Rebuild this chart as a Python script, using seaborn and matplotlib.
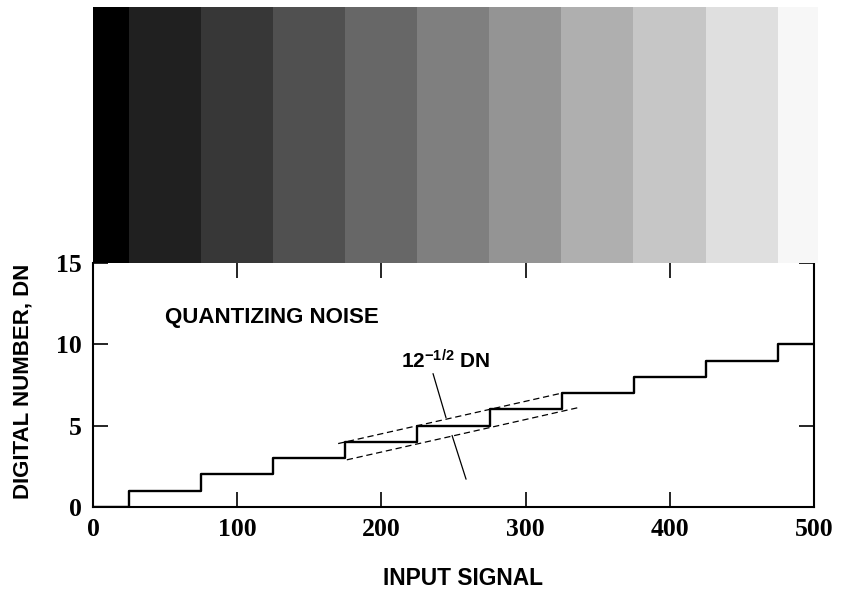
import numpy as np
import pandas as pd
import matplotlib.pyplot as plt
import seaborn as sns

# data
band_centers = [0, 50, 100, 150, 200, 250, 300, 350, 400, 450, 500]
band_grays = ['#000000', '#202020', '#373737', '#505050', '#676767', '#7f7f7f',
              '#949494', '#afafaf', '#c6c6c6', '#dfdfdf', '#f7f7f7']
step_x = [0, 25, 75, 125, 175, 225, 275, 325, 375, 425, 475, 500]
step_dn = [0, 1, 2, 3, 4, 5, 6, 7, 8, 9, 10, 10]
upper_x, upper_y = [170, 325], [3.9, 7.0]
lower_x, lower_y = [176, 336], [2.9, 6.1]
x_ticks = [0, 100, 200, 300, 400, 500]
y_ticks = [0, 5, 10, 15]

sns.set_style("ticks")
plt.rcParams['font.family'] = ['Liberation Sans', 'DejaVu Sans']
plt.rcParams['mathtext.fontset'] = 'custom'
plt.rcParams['mathtext.bf'] = 'Liberation Sans:bold'
plt.rcParams['mathtext.rm'] = 'Liberation Sans:bold'
# plain black text and axes
for key in ['text.color', 'axes.labelcolor', 'xtick.color', 'ytick.color', 'axes.edgecolor']:
    plt.rcParams[key] = 'black'

fig = plt.figure(figsize=(8.41, 5.91), dpi=100)
ax = fig.add_axes([0.1106, 0.1421, 0.8573, 0.4129])
band = fig.add_axes([0.1106, 0.555, 0.862, 0.433])

# grey scale strip
band.bar(band_centers, 1, width=50, color=band_grays, linewidth=0)
band.set_xlim(0, 503)
band.set_ylim(0, 1)
band.axis('off')

# quantizer staircase
df = pd.DataFrame({'signal': step_x, 'dn': step_dn})
sns.lineplot(data=df, x='signal', y='dn', ax=ax, drawstyle='steps-post',
             color='black', linewidth=1.7)

ax.plot(upper_x, upper_y, color='black', linestyle=(0, (5, 3)), linewidth=0.9)
ax.plot(lower_x, lower_y, color='black', linestyle=(0, (5, 3)), linewidth=0.9)
ax.plot([235.8, 244.8], [8.2, 5.49], color='black', linewidth=0.9)
ax.plot([249, 258.7], [4.4, 1.71], color='black', linewidth=0.9)

ax.text(50, 11.65, 'QUANTIZING NOISE', fontsize=16, fontweight='bold', va='center')
ax.text(244.8, 9.0, r'$\mathbf{12^{-1/2}}$ DN', fontsize=15, fontweight='bold',
        ha='center', va='center')

ax.set_xlim(0, 500)
ax.set_ylim(0, 15)
ax.set_xticks(x_ticks)
ax.set_yticks(y_ticks)
ax.tick_params(direction='in', length=11, width=1.2, top=True, right=True,
               labelsize=18.5, pad=8, colors='black')
for lab in ax.get_xticklabels() + ax.get_yticklabels():
    lab.set_family('Liberation Serif')
    lab.set_fontweight('bold')
for side in ['left', 'right', 'bottom']:
    ax.spines[side].set_linewidth(1.5)
    ax.spines[side].set_color('black')
ax.spines['top'].set_visible(False)

ax.set_xlabel('INPUT SIGNAL', fontsize=16.4, fontweight='bold')
ax.set_ylabel('DIGITAL NUMBER, DN', fontsize=16, fontweight='bold')
ax.xaxis.set_label_coords(0.513, -0.246)
ax.yaxis.set_label_coords(-0.083, 0.514)

fig.savefig('out.png', dpi=100)
